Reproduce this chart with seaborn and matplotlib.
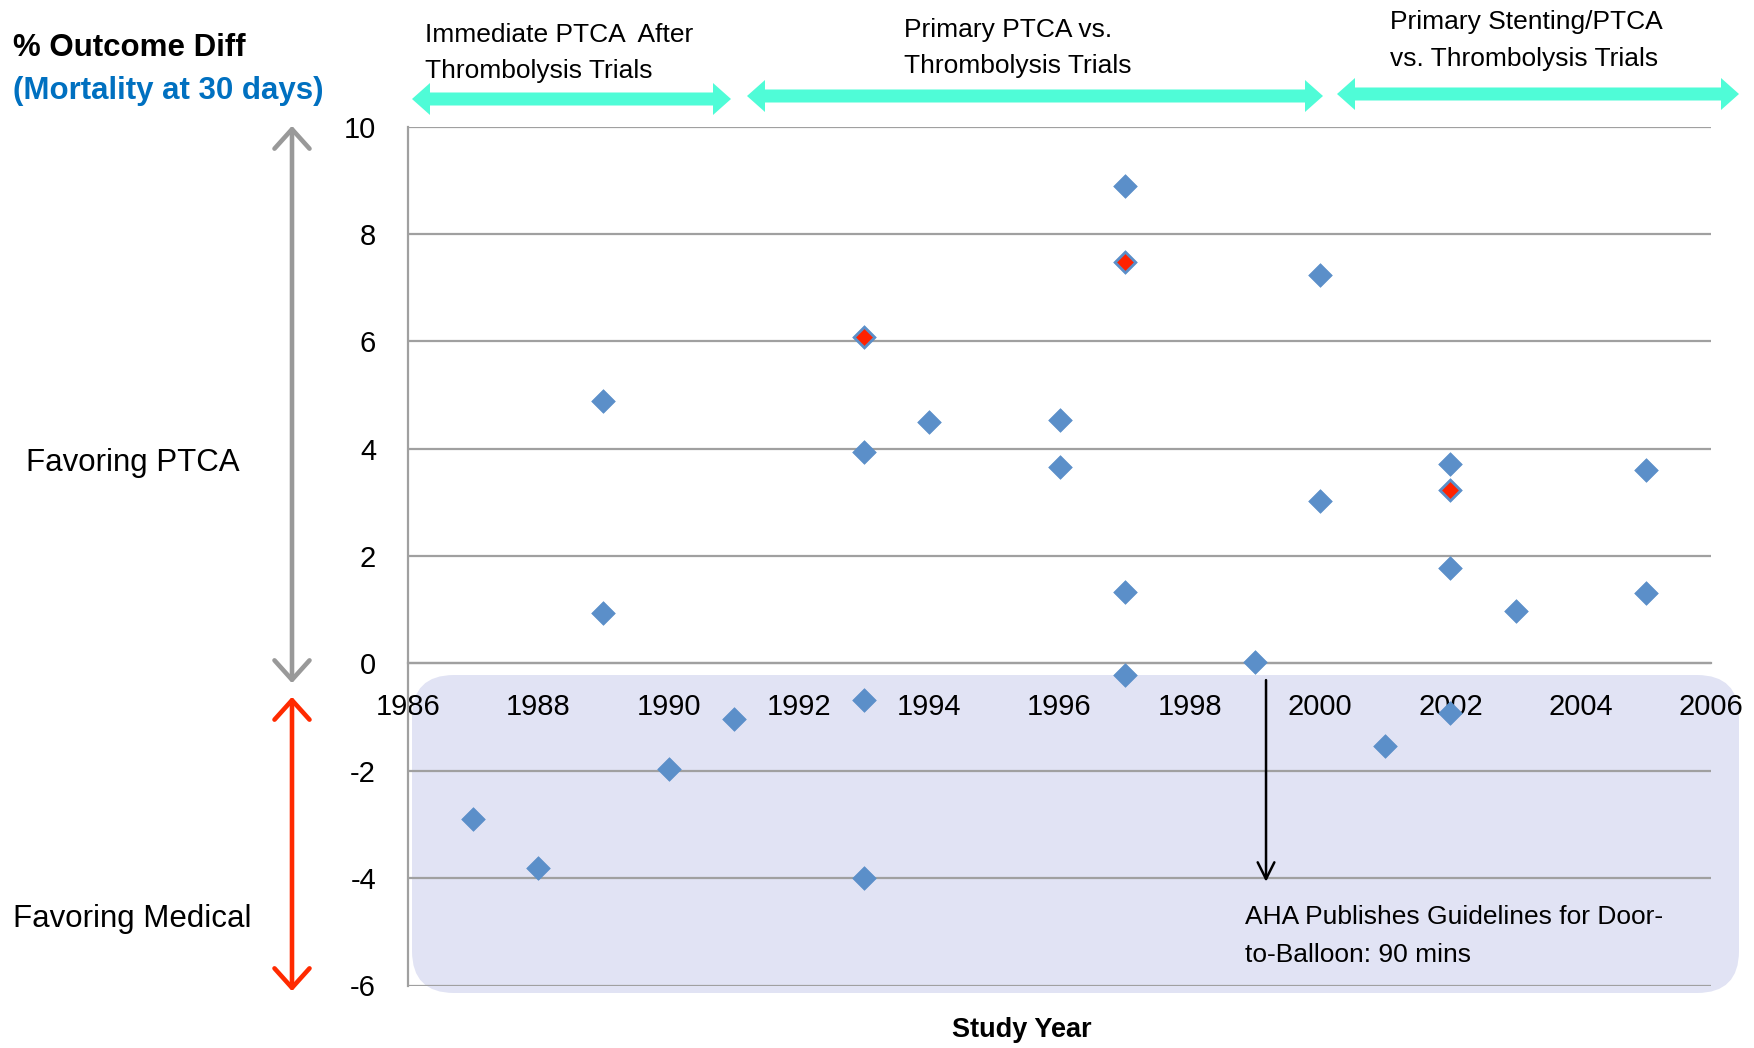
import matplotlib
matplotlib.use("Agg")
import matplotlib.pyplot as plt
import seaborn as sns
import pandas as pd
from matplotlib.patches import FancyBboxPatch, FancyArrowPatch, Polygon

# ---- data ----
years = [1987, 1988, 1989, 1989, 1990, 1991, 1993, 1993, 1993, 1993, 1994,
         1996, 1996, 1997, 1997, 1997, 1997, 1999, 2000, 2000, 2001,
         2002, 2002, 2002, 2002, 2003, 2005, 2005]
diffs = [-2.9, -3.81, 4.88, 0.94, -1.96, -1.04, 6.08, 3.94, -0.69, -4.0, 4.5,
         4.54, 3.65, 8.9, 7.48, 1.33, -0.21, 0.02, 7.23, 3.02, -1.54,
         3.71, 3.23, 1.77, -0.92, 0.98, 3.6, 1.31]
hl_years = [1993, 1997, 2002]
hl_diffs = [6.08, 7.48, 3.23]
x_ticks = list(range(1986, 2007, 2))
y_ticks = list(range(-6, 11, 2))
era_labels = [("Immediate PTCA  After", "Thrombolysis Trials"),
              ("Primary PTCA vs.", "Thrombolysis Trials"),
              ("Primary Stenting/PTCA", "vs. Thrombolysis Trials")]

W, H = 1754, 1048
sns.set_style("white")
FAM = ["Liberation Sans Narrow", "Liberation Sans", "DejaVu Sans"]
plt.rcParams["font.family"] = FAM
plt.rcParams["text.color"] = "black"
plt.rcParams["axes.unicode_minus"] = False

fig = plt.figure(figsize=(W / 100, H / 100), dpi=100)

# decoration layer in pixel coordinates
deco = fig.add_axes([0, 0, 1, 1], zorder=0)
deco.set_xlim(0, W)
deco.set_ylim(H, 0)
deco.axis("off")
deco.patch.set_alpha(0)

# shaded box
deco.add_patch(FancyBboxPatch((412, 675), 1739 - 412, 993 - 675,
                              boxstyle="round,pad=0,rounding_size=42",
                              facecolor="#E1E3F4", edgecolor="none"))

def double_arrow(x0, x1, yc, body=13, headh=32, headl=18, color="#4FFCD7"):
    pts = [(x0, yc), (x0 + headl, yc - headh / 2), (x0 + headl, yc - body / 2),
           (x1 - headl, yc - body / 2), (x1 - headl, yc - headh / 2), (x1, yc),
           (x1 - headl, yc + headh / 2), (x1 - headl, yc + body / 2),
           (x0 + headl, yc + body / 2), (x0 + headl, yc + headh / 2)]
    deco.add_patch(Polygon(pts, closed=True, facecolor=color, edgecolor="none"))

double_arrow(412, 731, 99)
double_arrow(747, 1323, 96)
double_arrow(1337, 1739, 94)

label_pos = [(425, 35, 71), (904, 30, 66), (1390, 22, 59)]
for (l1, l2), (x, y1, y2) in zip(era_labels, label_pos):
    deco.text(x, y1, l1, fontsize=19, va="center", ha="left")
    deco.text(x, y2, l2, fontsize=19, va="center", ha="left")

deco.text(13, 48, "% Outcome Diff", fontsize=22.5, fontweight="bold", va="center")
deco.text(13, 91, "(Mortality at 30 days)", fontsize=22.5, fontweight="bold",
          color="#0070C0", va="center")
deco.text(26, 463, "Favoring PTCA", fontsize=22.5, va="center")
deco.text(13, 919, "Favoring Medical", fontsize=22.5, va="center")

deco.add_patch(FancyArrowPatch((292, 686), (292, 123), arrowstyle="<->,head_length=0.5,head_width=0.45",
                               mutation_scale=28, color="#999999", lw=3.3))
deco.add_patch(FancyArrowPatch((292, 994), (292, 694), arrowstyle="<->,head_length=0.5,head_width=0.45",
                               mutation_scale=28, color="#FF2A00", lw=3.3))

deco.text(1022, 1030, "Study Year", fontsize=19.5, fontweight="bold", ha="center", va="center")

# main axes
l, r, t, b = 408, 1711, 126.5, 985.5
ax = fig.add_axes([l / W, 1 - b / H, (r - l) / W, (b - t) / H], zorder=2)
ax.patch.set_alpha(0)

df = pd.DataFrame({"year": years, "diff": diffs})
hl = pd.DataFrame({"year": hl_years, "diff": hl_diffs})
sns.scatterplot(data=df, x="year", y="diff", marker="D", s=145, color="#5B8FC9",
                edgecolor="#5B8FC9", linewidth=0.5, ax=ax, zorder=5, clip_on=False)
sns.scatterplot(data=hl, x="year", y="diff", marker="D", s=95, color="#FF2200",
                edgecolor="#5B8FC9", linewidth=1.2, ax=ax, zorder=6, clip_on=False)

ax.set_xlim(1986, 2006)
ax.set_ylim(-6, 10)
ax.set_xticks(x_ticks)
ax.set_yticks(y_ticks)
ax.set_xlabel("")
ax.set_ylabel("")
ax.grid(axis="y", color="#A0A0A0", lw=1.6)
ax.grid(axis="x", visible=False)
ax.set_axisbelow(True)
for s in ["top", "right"]:
    ax.spines[s].set_visible(False)
ax.spines["bottom"].set_position(("data", 0))
for s in ["left", "bottom"]:
    ax.spines[s].set_color("#A0A0A0")
    ax.spines[s].set_linewidth(1.6)
ax.tick_params(axis="both", labelsize=21, colors="#A0A0A0", labelcolor="black",
               length=9, width=1.3, direction="out")
ax.tick_params(axis="y", pad=14)
ax.tick_params(axis="x", pad=12)

ax.annotate("", xy=(1999.17, -4.12), xytext=(1999.17, -0.26),
            arrowprops=dict(arrowstyle="->,head_length=0.6,head_width=0.3", color="black",
                            lw=1.8, mutation_scale=20), annotation_clip=False)
ax.text(1998.85, -4.72, "AHA Publishes Guidelines for Door-", fontsize=19,
        va="center", ha="left")
ax.text(1998.85, -5.43, "to-Balloon: 90 mins", fontsize=19, va="center", ha="left")

fig.savefig("out.png", dpi=100)
